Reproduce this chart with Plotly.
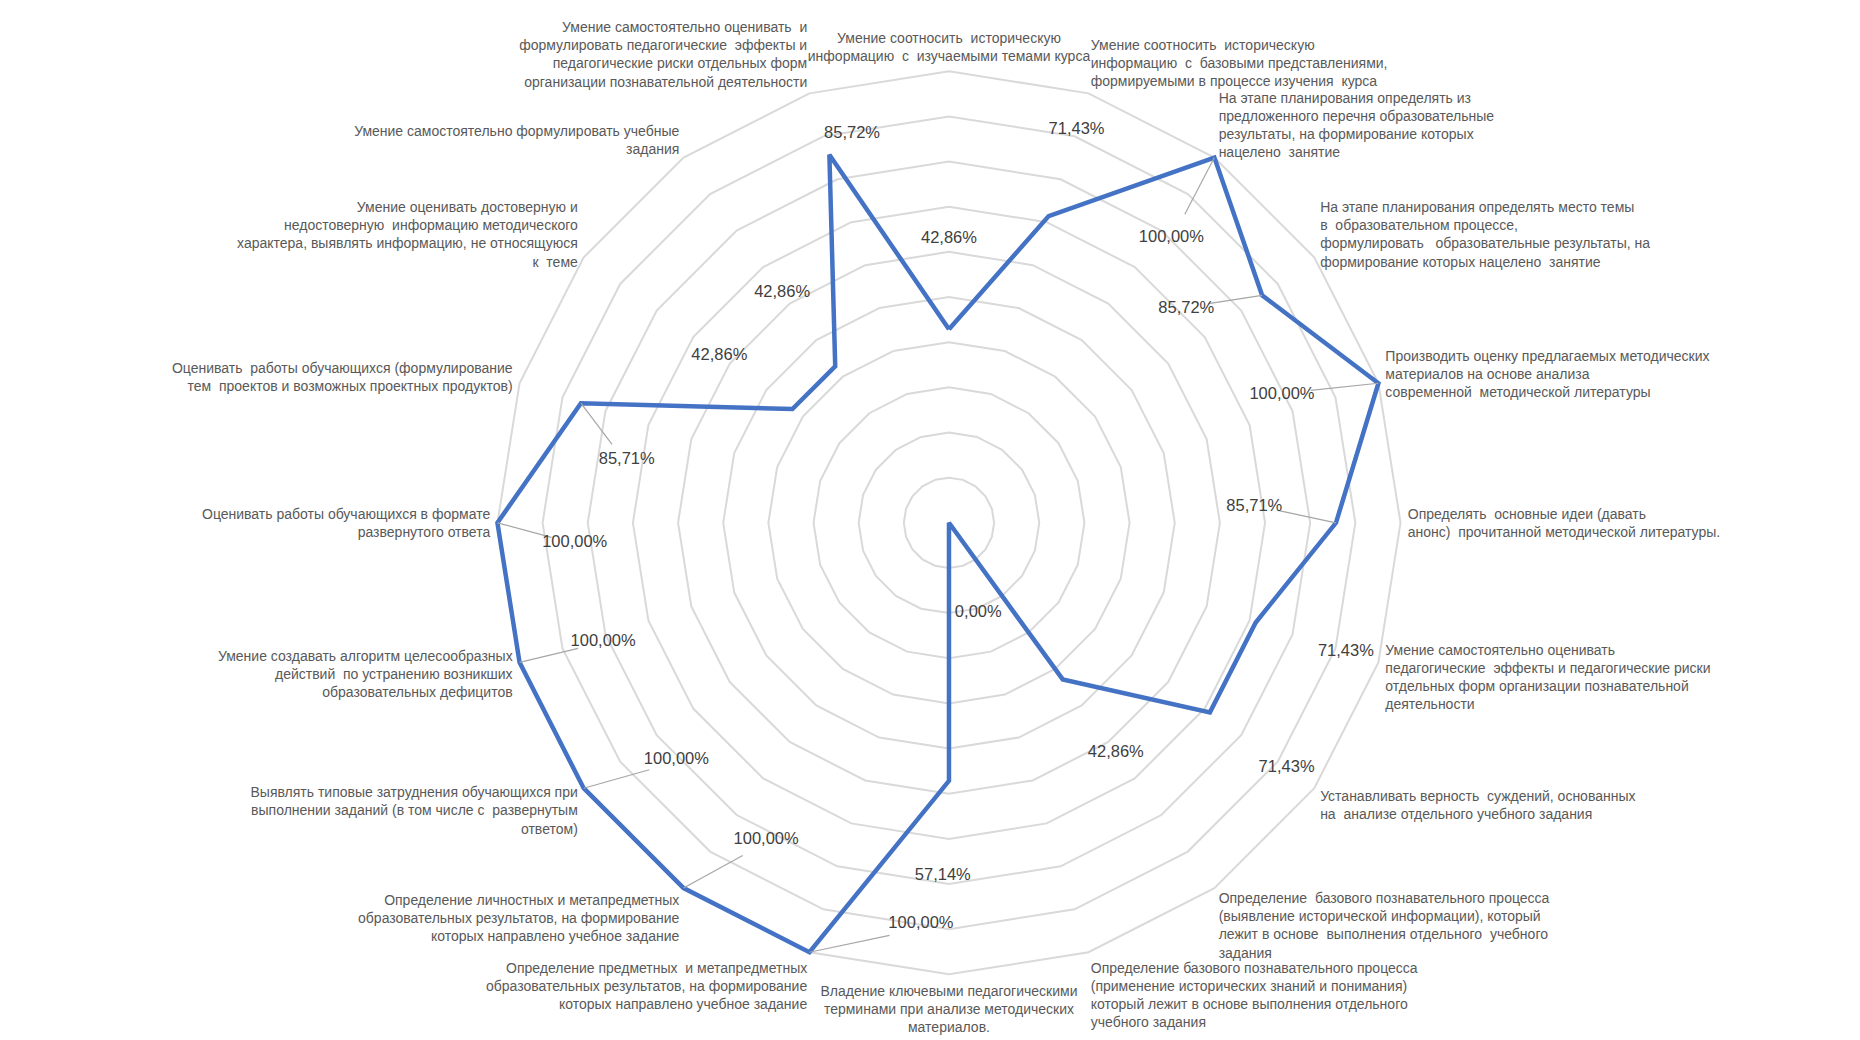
import plotly.graph_objects as go

categories = [
    "Умение соотносить  историческую<br>информацию  с  изучаемыми темами курса",
    "Умение соотносить  историческую<br>информацию  с  базовыми представлениями,<br>формируемыми в процессе изучения  курса",
    "На этапе планирования определять из<br>предложенного перечня образовательные<br>результаты, на формирование которых<br>нацелено  занятие",
    "На этапе планирования определять место темы<br>в  образовательном процессе,<br>формулировать   образовательные результаты, на<br>формирование которых нацелено  занятие",
    "Производить оценку предлагаемых методических<br>материалов на основе анализа<br>современной  методической литературы",
    "Определять  основные идеи (давать<br>анонс)  прочитанной методической литературы.",
    "Умение самостоятельно оценивать<br>педагогические  эффекты и педагогические риски<br>отдельных форм организации познавательной<br>деятельности",
    "Устанавливать верность  суждений, основанных<br>на  анализе отдельного учебного задания",
    "Определение  базового познавательного процесса<br>(выявление исторической информации), который<br>лежит в основе  выполнения отдельного  учебного<br>задания",
    "Определение базового познавательного процесса<br>(применение исторических знаний и понимания)<br>который лежит в основе выполнения отдельного<br>учебного задания",
    "Владение ключевыми педагогическими<br>терминами при анализе методических<br>материалов.",
    "Определение предметных  и метапредметных<br>образовательных результатов, на формирование<br>которых направлено учебное задание",
    "Определение личностных и метапредметных<br>образовательных результатов, на формирование<br>которых направлено учебное задание",
    "Выявлять типовые затруднения обучающихся при<br>выполнении заданий (в том числе с  развернутым<br>ответом)",
    "Умение создавать алгоритм целесообразных<br>действий  по устранению возникших<br>образовательных дефицитов",
    "Оценивать работы обучающихся в формате<br>развернутого ответа",
    "Оценивать  работы обучающихся (формулирование<br>тем  проектов и возможных проектных продуктов)",
    "Умение оценивать достоверную и<br>недостоверную  информацию методического<br>характера, выявлять информацию, не относящуюся<br>к  теме",
    "Умение самостоятельно формулировать учебные<br>задания",
    "Умение самостоятельно оценивать  и<br>формулировать педагогические  эффекты и<br>педагогические риски отдельных форм<br>организации познавательной деятельности",
]

values = [42.86, 71.43, 100.00, 85.72, 100.00, 85.71, 71.43, 71.43, 42.86, 0.00,
          57.14, 100.00, 100.00, 100.00, 100.00, 100.00, 85.71, 42.86, 42.86, 85.72]

grid_ticks = [10, 20, 30, 40, 50, 60, 70, 80, 90, 100]

# label placement offsets (style only): radial offset (in % units) and angle offset (deg)
label_dr = [20, 20, -20, -15, -21, -18, 21, 21, 20, 21,
            21, -11, -19, -20, -19, -17, -13, 20, 20, 3]
label_dtheta = [0, 0, 2, -6, -3, -3, 0, 0, 0, 0,
                1, -14, -6, -5, -1, -3, -7, 0, 0, 4]
leader = [False, False, True, True, True, True, False, False, False, False,
          False, True, True, True, True, True, True, False, False, False]

N = len(categories)
angles = [i * 360.0 / N for i in range(N)]

FONT = "Liberation Sans, Arial, sans-serif"
LINE_COLOR = "#4472C4"
TEXT_COLOR = "#595959"
R_MAX = 101.5
DOMAIN = dict(x=[0.2595, 0.7523], y=[0.0635, 0.9465])

fig = go.Figure()

# main radar line (categorical axis -> polygonal grid)
fig.add_trace(go.Scatterpolar(
    r=values + [values[0]],
    theta=categories + [categories[0]],
    mode="lines",
    line=dict(color=LINE_COLOR, width=4.5),
    cliponaxis=False,
    showlegend=False,
    subplot="polar",
))

# leader lines (overlay subplot in degrees)
for i in range(N):
    if not leader[i]:
        continue
    lr = values[i] + label_dr[i] * 0.7
    lt = angles[i] + label_dtheta[i] * 0.7
    fig.add_trace(go.Scatterpolar(
        r=[values[i], lr], theta=[angles[i], lt], mode="lines",
        line=dict(color="#A6A6A6", width=1.2), showlegend=False,
        cliponaxis=False, hoverinfo="skip", subplot="polar2"))

label_text = [f"{v:.2f}".replace(".", ",") + "%" for v in values]
fig.add_trace(go.Scatterpolar(
    r=[v + d for v, d in zip(values, label_dr)],
    theta=[a + d for a, d in zip(angles, label_dtheta)],
    mode="text",
    text=label_text,
    textfont=dict(family=FONT, size=16.5, color="#404040"),
    cliponaxis=False,
    showlegend=False,
    hoverinfo="skip",
    subplot="polar2",
))

fig.update_layout(
    width=1860, height=1040,
    margin=dict(l=0, r=0, t=0, b=0),
    paper_bgcolor="white",
    plot_bgcolor="white",
    font=dict(family=FONT, color=TEXT_COLOR),
    polar=dict(
        domain=DOMAIN,
        bgcolor="white",
        gridshape="linear",
        radialaxis=dict(
            range=[0, R_MAX], tickvals=grid_ticks, showticklabels=False,
            ticks="", showline=False, gridcolor="#D9D9D9", gridwidth=1.5,
        ),
        angularaxis=dict(
            type="category",
            rotation=90, direction="clockwise",
            tickfont=dict(family=FONT, size=14, color=TEXT_COLOR),
            showgrid=False, showline=False,
            ticks="",
        ),
    ),
    polar2=dict(
        domain=DOMAIN,
        bgcolor="rgba(0,0,0,0)",
        radialaxis=dict(range=[0, R_MAX], visible=False, showgrid=False),
        angularaxis=dict(
            rotation=90, direction="clockwise", thetaunit="degrees",
            visible=False, showgrid=False, showline=False, showticklabels=False,
        ),
    ),
)

fig.write_html("out.html")
